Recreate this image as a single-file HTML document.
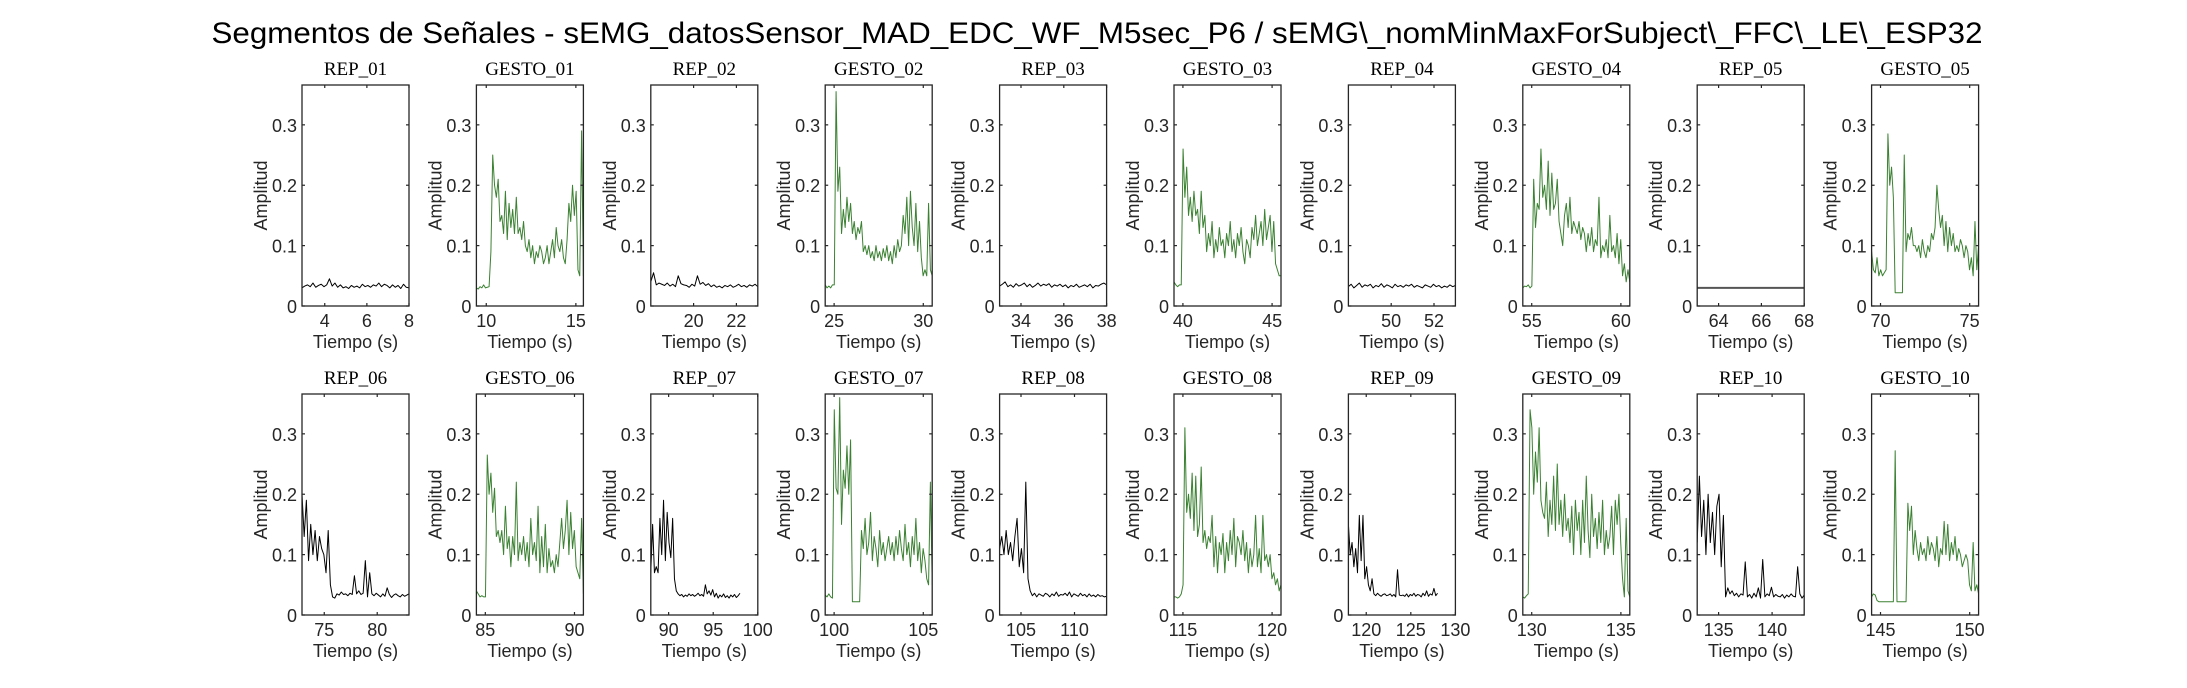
<!DOCTYPE html>
<html><head><meta charset="utf-8">
<style>
html,body{margin:0;padding:0;background:#fff;}
svg{display:block;}
text{font-family:"Liberation Sans",sans-serif;fill:#262626;}
.st{font-family:"Liberation Serif",serif;fill:#000;}
</style></head>
<body>
<svg id="fig" width="2187" height="688" viewBox="0 0 2187 688" xmlns="http://www.w3.org/2000/svg">
<rect width="2187" height="688" fill="#fff"/>
<text x="1097" y="43" text-anchor="middle" font-size="30" textLength="1771" lengthAdjust="spacingAndGlyphs" style="fill:#000">Segmentos de Señales - sEMG_datosSensor_MAD_EDC_WF_M5sec_P6 / sEMG\_nomMinMaxForSubject\_FFC\_LE\_ESP32</text>
</svg>
<script>
// ---- data ----
const titles = ["REP_01","GESTO_01","REP_02","GESTO_02","REP_03","GESTO_03","REP_04","GESTO_04","REP_05","GESTO_05",
"REP_06","GESTO_06","REP_07","GESTO_07","REP_08","GESTO_08","REP_09","GESTO_09","REP_10","GESTO_10"];
const xLimits = [[2.92,8],[9.45,15.42],[18,23],[24.5,30.5],[33,38],[39.5,45.5],[48,53],[54.5,60.5],[63,68],[69.5,75.5],
[72.9,83],[84.5,90.5],[88,100],[99.5,105.5],[103,113],[114.5,120.5],[118,130],[129.5,135.5],[133,143],[144.5,150.5]];
const xTickVals = [[4,6,8],[10,15],[20,22],[25,30],[34,36,38],[40,45],[50,52],[55,60],[64,66,68],[70,75],
[75,80],[85,90],[90,95,100],[100,105],[105,110],[115,120],[120,125,130],[130,135],[135,140],[145,150]];
const dataSpan = [[2.92,8],[9.45,15.42],[18,23],[24.5,30.5],[33,38],[39.5,45.5],[48,53],[54.5,60.5],[63,68],[69.5,75.5],
[72.9,83],[84.5,90.5],[88,98],[99.5,105.5],[103,113],[114.5,120.5],[118,128],[129.5,135.5],[133,143],[144.5,150.5]];
const yTickVals = [0,0.1,0.2,0.3];
const yTickLabels = ["0","0.1","0.2","0.3"];
const yMax = 0.366;

const rep01 = [0.03,0.033,0.035,0.032,0.038,0.031,0.034,0.036,0.032,0.035,0.045,0.033,0.038,0.031,0.035,0.03,0.032,0.029,0.034,0.031,0.033,0.03,0.036,0.032,0.034,0.031,0.035,0.033,0.038,0.032,0.036,0.034,0.03,0.035,0.031,0.034,0.029,0.036,0.031,0.03];
const gesto01 = [0.03,0.028,0.032,0.03,0.035,0.03,0.031,0.032,0.09,0.25,0.2,0.18,0.21,0.14,0.15,0.12,0.19,0.11,0.17,0.13,0.16,0.12,0.18,0.12,0.13,0.11,0.14,0.1,0.09,0.11,0.08,0.1,0.07,0.09,0.08,0.1,0.09,0.07,0.08,0.1,0.07,0.09,0.11,0.08,0.13,0.1,0.09,0.11,0.08,0.07,0.11,0.17,0.14,0.2,0.15,0.19,0.06,0.05,0.29,0.05];
const rep02 = [0.04,0.055,0.035,0.038,0.036,0.034,0.038,0.033,0.036,0.032,0.05,0.037,0.035,0.034,0.031,0.036,0.033,0.05,0.036,0.039,0.034,0.037,0.032,0.035,0.031,0.033,0.03,0.034,0.032,0.035,0.031,0.033,0.036,0.032,0.034,0.031,0.035,0.033,0.036,0.032];
const gesto02 = [0.035,0.03,0.033,0.03,0.035,0.035,0.355,0.19,0.23,0.12,0.16,0.13,0.18,0.14,0.17,0.12,0.14,0.11,0.13,0.12,0.14,0.09,0.1,0.085,0.1,0.08,0.09,0.075,0.1,0.08,0.09,0.075,0.095,0.08,0.1,0.075,0.09,0.07,0.1,0.08,0.11,0.09,0.1,0.15,0.12,0.18,0.1,0.19,0.13,0.1,0.17,0.09,0.14,0.08,0.05,0.06,0.05,0.17,0.06,0.05];
const rep03 = [0.033,0.036,0.04,0.032,0.035,0.031,0.037,0.033,0.035,0.038,0.032,0.036,0.031,0.034,0.038,0.033,0.036,0.034,0.037,0.031,0.035,0.033,0.036,0.032,0.035,0.03,0.034,0.032,0.036,0.031,0.033,0.035,0.032,0.036,0.03,0.034,0.033,0.036,0.038,0.035];
const gesto03 = [0.04,0.035,0.032,0.035,0.035,0.26,0.18,0.23,0.15,0.18,0.14,0.19,0.15,0.16,0.12,0.19,0.13,0.15,0.09,0.12,0.1,0.14,0.08,0.11,0.09,0.13,0.1,0.11,0.08,0.12,0.1,0.14,0.09,0.11,0.08,0.12,0.1,0.13,0.09,0.07,0.11,0.1,0.08,0.13,0.11,0.15,0.1,0.12,0.14,0.1,0.16,0.11,0.13,0.15,0.09,0.14,0.07,0.06,0.05,0.05];
const rep04 = [0.032,0.036,0.03,0.034,0.038,0.031,0.035,0.033,0.036,0.03,0.034,0.032,0.037,0.031,0.035,0.033,0.03,0.036,0.032,0.034,0.031,0.035,0.033,0.036,0.031,0.034,0.032,0.03,0.035,0.033,0.031,0.036,0.032,0.034,0.03,0.033,0.031,0.035,0.032,0.034];
const gesto04 = [0.03,0.033,0.032,0.035,0.03,0.033,0.21,0.13,0.17,0.16,0.26,0.18,0.2,0.16,0.24,0.15,0.22,0.16,0.17,0.21,0.14,0.12,0.1,0.15,0.17,0.13,0.18,0.12,0.14,0.13,0.12,0.14,0.11,0.13,0.12,0.09,0.12,0.1,0.13,0.09,0.11,0.1,0.18,0.08,0.1,0.09,0.11,0.08,0.15,0.09,0.1,0.08,0.12,0.07,0.11,0.05,0.07,0.04,0.06,0.04];
const rep05 = [0.03,0.03];
const gesto05 = [0.09,0.06,0.055,0.08,0.05,0.06,0.05,0.055,0.06,0.285,0.2,0.23,0.18,0.022,0.022,0.022,0.022,0.022,0.25,0.09,0.12,0.11,0.13,0.1,0.1,0.09,0.1,0.08,0.11,0.09,0.08,0.1,0.09,0.12,0.11,0.13,0.2,0.16,0.13,0.15,0.1,0.14,0.09,0.13,0.1,0.12,0.09,0.1,0.09,0.11,0.1,0.08,0.1,0.09,0.06,0.08,0.05,0.14,0.06,0.1];
const rep06 = [0.2,0.13,0.19,0.09,0.15,0.1,0.14,0.09,0.13,0.11,0.1,0.07,0.14,0.05,0.03,0.028,0.035,0.033,0.038,0.034,0.035,0.032,0.036,0.034,0.065,0.035,0.04,0.034,0.036,0.09,0.03,0.07,0.035,0.032,0.036,0.033,0.03,0.035,0.031,0.045,0.034,0.029,0.033,0.035,0.032,0.03,0.034,0.031,0.033,0.035];
const gesto06 = [0.04,0.035,0.03,0.032,0.03,0.03,0.265,0.2,0.235,0.17,0.21,0.13,0.14,0.12,0.14,0.1,0.18,0.11,0.13,0.08,0.13,0.1,0.22,0.09,0.12,0.1,0.13,0.09,0.12,0.08,0.16,0.1,0.12,0.09,0.18,0.07,0.13,0.08,0.15,0.07,0.11,0.08,0.09,0.07,0.1,0.08,0.12,0.16,0.11,0.14,0.19,0.1,0.17,0.11,0.14,0.08,0.07,0.06,0.16,0.035];
const rep07 = [0.07,0.15,0.07,0.08,0.07,0.16,0.1,0.19,0.09,0.17,0.12,0.095,0.16,0.06,0.04,0.035,0.032,0.034,0.03,0.033,0.031,0.035,0.032,0.034,0.031,0.033,0.036,0.032,0.034,0.031,0.05,0.035,0.04,0.033,0.042,0.03,0.036,0.028,0.033,0.03,0.035,0.029,0.032,0.028,0.033,0.03,0.034,0.029,0.032,0.036];
const gesto07 = [0.033,0.03,0.035,0.03,0.028,0.34,0.21,0.2,0.36,0.15,0.24,0.21,0.28,0.2,0.29,0.022,0.022,0.022,0.022,0.022,0.14,0.11,0.16,0.1,0.12,0.17,0.09,0.13,0.11,0.08,0.14,0.1,0.12,0.09,0.11,0.13,0.1,0.12,0.09,0.13,0.1,0.14,0.11,0.09,0.15,0.1,0.12,0.08,0.13,0.1,0.16,0.09,0.12,0.07,0.11,0.09,0.06,0.05,0.22,0.05];
const rep08 = [0.11,0.13,0.1,0.14,0.1,0.12,0.09,0.13,0.16,0.08,0.11,0.07,0.22,0.06,0.04,0.032,0.036,0.03,0.035,0.033,0.031,0.036,0.034,0.03,0.035,0.032,0.038,0.031,0.034,0.033,0.036,0.032,0.038,0.03,0.035,0.033,0.031,0.036,0.032,0.034,0.03,0.035,0.031,0.033,0.03,0.034,0.031,0.032,0.03,0.031];
const gesto08 = [0.03,0.03,0.028,0.03,0.035,0.05,0.31,0.17,0.2,0.16,0.235,0.14,0.23,0.13,0.15,0.245,0.12,0.14,0.11,0.13,0.12,0.165,0.08,0.13,0.07,0.12,0.1,0.135,0.07,0.12,0.09,0.14,0.1,0.16,0.08,0.13,0.12,0.1,0.14,0.09,0.12,0.07,0.11,0.08,0.1,0.165,0.08,0.11,0.07,0.165,0.09,0.1,0.08,0.1,0.06,0.07,0.05,0.06,0.04,0.05];
const rep09 = [0.15,0.1,0.12,0.08,0.11,0.07,0.165,0.09,0.165,0.06,0.08,0.05,0.04,0.06,0.035,0.032,0.036,0.033,0.031,0.034,0.035,0.032,0.033,0.035,0.031,0.034,0.03,0.075,0.033,0.032,0.033,0.031,0.035,0.03,0.034,0.032,0.036,0.031,0.034,0.033,0.03,0.036,0.032,0.04,0.031,0.035,0.033,0.044,0.032,0.036];
const gesto09 = [0.03,0.028,0.032,0.035,0.34,0.31,0.2,0.27,0.22,0.31,0.19,0.17,0.16,0.22,0.13,0.19,0.15,0.23,0.14,0.25,0.15,0.19,0.13,0.2,0.14,0.16,0.12,0.18,0.1,0.19,0.14,0.17,0.1,0.19,0.12,0.23,0.14,0.095,0.2,0.13,0.16,0.11,0.17,0.12,0.19,0.1,0.14,0.11,0.13,0.18,0.1,0.19,0.15,0.2,0.12,0.06,0.03,0.16,0.04,0.03];
const rep10 = [0.12,0.23,0.13,0.19,0.1,0.2,0.12,0.17,0.1,0.18,0.2,0.08,0.165,0.03,0.045,0.035,0.04,0.032,0.036,0.03,0.035,0.033,0.088,0.03,0.034,0.028,0.036,0.03,0.045,0.028,0.092,0.03,0.035,0.032,0.046,0.03,0.034,0.031,0.03,0.034,0.028,0.033,0.03,0.035,0.031,0.03,0.08,0.035,0.028,0.033];
const gesto10 = [0.03,0.035,0.033,0.024,0.022,0.022,0.022,0.022,0.022,0.022,0.022,0.022,0.022,0.272,0.022,0.022,0.022,0.022,0.022,0.022,0.185,0.14,0.18,0.1,0.14,0.11,0.09,0.12,0.1,0.11,0.09,0.13,0.1,0.12,0.11,0.09,0.13,0.08,0.11,0.1,0.155,0.1,0.15,0.09,0.12,0.1,0.13,0.09,0.11,0.1,0.08,0.09,0.1,0.09,0.05,0.04,0.12,0.04,0.05,0.035];
const seriesList = [rep01,gesto01,rep02,gesto02,rep03,gesto03,rep04,gesto04,rep05,gesto05,
rep06,gesto06,rep07,gesto07,rep08,gesto08,rep09,gesto09,rep10,gesto10];

// ---- layout ----
const NS = "http://www.w3.org/2000/svg";
const svg = document.getElementById("fig");
const colLeft0 = 302, colStep = 174.4, axW = 107;
const rowTop = [85, 394], axH = 221;
function mk(tag, attrs, parent){ const e=document.createElementNS(NS,tag); for(const k in attrs) e.setAttribute(k,attrs[k]); (parent||svg).appendChild(e); return e; }

for(let i=0;i<20;i++){
  const r = Math.floor(i/10), c = i%10;
  const L = colLeft0 + c*colStep, T = rowTop[r], B = T+axH, R = L+axW;
  const [x0,x1] = xLimits[i];
  const xs = v => L + (v-x0)/(x1-x0)*axW;
  const ys = v => B - v/yMax*axH;
  const g = mk("g",{});
  
  

  // series line
  const vals = seriesList[i];
  const [d0,d1] = dataSpan[i];
  let d = "";
  vals.forEach((v,k)=>{ const t = d0 + (d1-d0)*k/(vals.length-1); d += (k?"L":"M") + xs(t).toFixed(2) + " " + ys(v).toFixed(2); });
  const isG = titles[i].startsWith("GESTO");
  const isFlat = titles[i]==="REP_05";
  const clipId = "clip"+i;
  const cp = mk("clipPath",{id:clipId}, g); mk("rect",{x:L,y:T,width:axW,height:axH},cp);
  const line = mk("path",{d:d, fill:"none", stroke: isG ? "#3b8132" : (isFlat ? "#555" : "#000"), "stroke-width": isFlat?2:1, "stroke-linejoin":"round", "clip-path":"url(#"+clipId+")"}, g);
  
  

  // axes box
  const box = mk("rect",{x:L,y:T,width:axW,height:axH,fill:"none",stroke:"#262626","stroke-width":1.3}, g);
  
  

  // y ticks
  yTickVals.forEach((v,k)=>{
    const y = ys(v);
    mk("line",{x1:L,x2:L+3,y1:y,y2:y,stroke:"#262626","stroke-width":1.2},g);
    mk("line",{x1:R-3,x2:R,y1:y,y2:y,stroke:"#262626","stroke-width":1.2},g);
    const t = mk("text",{x:L-5,y:y+7,"text-anchor":"end","font-size":18},g);
    t.textContent = yTickLabels[k];
    
    
  });
  // x ticks
  xTickVals[i].forEach(v=>{
    const x = xs(v);
    mk("line",{x1:x,x2:x,y1:B,y2:B-3,stroke:"#262626","stroke-width":1.2},g);
    mk("line",{x1:x,x2:x,y1:T,y2:T+3,stroke:"#262626","stroke-width":1.2},g);
    const t = mk("text",{x:x,y:B+21,"text-anchor":"middle","font-size":18},g);
    t.textContent = String(v);
    
    
  });
  // subplot title
  const st = mk("text",{x:L+axW/2,y:T-10,"text-anchor":"middle","font-size":19,"class":"st"},g);
  st.textContent = titles[i];
  
  
  // x label
  const xl = mk("text",{x:L+axW/2,y:B+42,"text-anchor":"middle","font-size":18},g);
  xl.textContent = "Tiempo (s)";
  
  
  // y label
  const yx = L-35, yy = T+axH/2;
  const yl = mk("text",{x:yx,y:yy,"text-anchor":"middle","font-size":18,transform:"rotate(-90 "+yx+" "+yy+")"},g);
  yl.textContent = "Amplitud";
  
  
}
</script>
</body></html>
